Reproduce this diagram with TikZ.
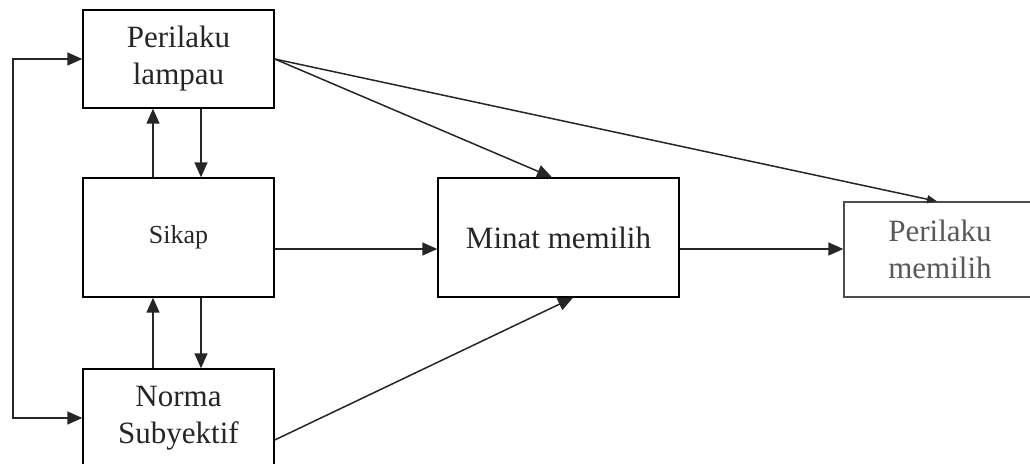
\documentclass[tikz,border=0pt]{standalone}
\usepackage{fontspec}
\setmainfont{Liberation Serif}
\usetikzlibrary{arrows.meta}

\tikzset{
  box/.style={draw, line width=1.4pt, rectangle, inner sep=0pt, align=center,
              font=\fontsize{31}{37}\selectfont, text=black!85},
  link/.style={line width=1.5pt, draw=black!85},
  arr/.style={link, -{Triangle[length=15pt,width=13pt]}},
  thinarr/.style={link, -{Triangle[length=10pt,width=8pt]}},
  biarr/.style={link, {Triangle[length=15pt,width=13pt]}-{Triangle[length=15pt,width=13pt]}},
}

\begin{document}
\begin{tikzpicture}[x=1pt,y=-1pt]
  \clip (0,0) rectangle (1030,463);
  \fill[white] (0,0) rectangle (1030,463);

  % boxes
  \node[box, minimum width=191pt, minimum height=98pt] (lampau) at (178.5,59) {Perilaku\\lampau};
  \node[box, minimum width=191pt, minimum height=119pt, font=\fontsize{26}{31}\selectfont] (sikap) at (178.5,237.5) {Sikap};
  \node[box, minimum width=191pt, minimum height=98pt] (norma) at (178.5,418) {Norma\\Subyektif};
  \node[box, minimum width=241pt, minimum height=119pt] (minat) at (558.5,237.5) {Minat memilih};
  \node[box, minimum width=192pt, minimum height=95pt, draw=black!70, text=black!65] (pmem) at (940,249.5) {Perilaku\\memilih};

  % helper columns and rows
  \coordinate (cu) at (153,0);
  \coordinate (cd) at (201,0);
  \coordinate (lft) at (13,0);
  \coordinate (row) at (0,249);
  \coordinate (ma) at (552,0);
  \coordinate (mb) at (573,0);
  \coordinate (pa) at (937,0);
  \coordinate (ns) at (0,440);

  % vertical links in the left column
  \draw[arr] (sikap.north -| cu) -- (lampau.south -| cu);
  \draw[arr] (lampau.south -| cd) -- (sikap.north -| cd);
  \draw[arr] (norma.north -| cu) -- (sikap.south -| cu);
  \draw[arr] (sikap.south -| cd) -- (norma.north -| cd);

  % feedback loop on the left
  \draw[biarr] (lampau.west) -- (lft |- lampau.west) -- (lft |- norma.west) -- (norma.west);

  % horizontal flow
  \draw[arr] (sikap.east |- row) -- (minat.west |- row);
  \draw[arr] (minat.east |- row) -- (pmem.west |- row);

  % diagonal links
  \draw[arr] (lampau.east) -- (minat.north -| ma);
  \draw[thinarr] (lampau.east) -- (pmem.north -| pa);
  \draw[arr] (norma.east |- ns) -- (minat.south -| mb);
\end{tikzpicture}
\end{document}
